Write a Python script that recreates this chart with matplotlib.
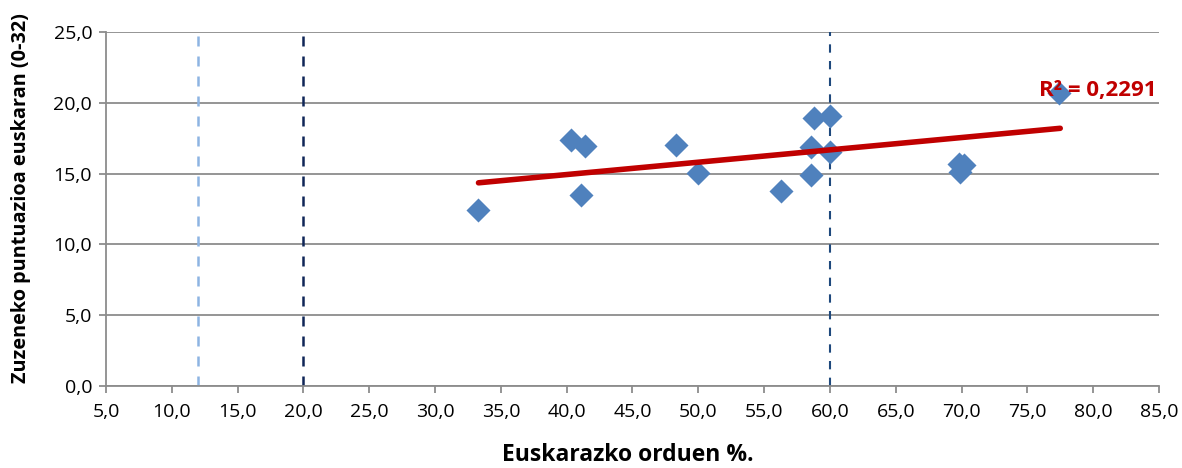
import numpy as np
import matplotlib
matplotlib.use('Agg')
import matplotlib.pyplot as plt
from matplotlib.ticker import FuncFormatter

# euskarazko orduen % vs zuzeneko puntuazioa
euskara_pct = [33.3, 40.3, 41.4, 41.1, 48.3, 50.0, 56.3, 58.6, 58.6, 58.8, 60.0, 60.0, 69.8, 70.2, 69.9, 77.4]
puntuazioa = [12.4, 17.4, 16.95, 13.5, 17.0, 15.05, 13.8, 14.9, 16.9, 18.9, 19.05, 16.5, 15.7, 15.6, 15.1, 20.7]

# trend line end points
trend_x = [33.3, 77.5]
trend_y = [14.35, 18.2]
r2_text = 'R² = 0,2291'

# reference lines (x values) and their colours
ref_x = [12.0, 20.0, 60.0]
ref_colors = ['#8DB4E2', '#0F2557', '#1F497D']
ref_widths = [1.8, 1.8, 1.5]

plt.rcParams['font.family'] = ['Open Sans', 'DejaVu Sans']

fig = plt.figure(figsize=(11.82, 4.68), dpi=100)
ax = fig.add_axes([0.0897, 0.1752, 0.8908, 0.7564])

for xv, c, w in zip(ref_x, ref_colors, ref_widths):
	ax.axvline(xv, color=c, linewidth=w, linestyle=(0, (4, 4)), zorder=1)

ax.scatter(euskara_pct, puntuazioa, marker='D', s=150, color='#4F81BD', zorder=3, linewidths=0)

ax.plot(trend_x, trend_y, color='#C00000', linewidth=4, solid_capstyle='round', zorder=4)

ax.text(84.8, 20.9, r2_text, color='#C00000', fontsize=16, fontweight='bold',
		ha='right', va='center', zorder=5)

ax.set_xlim(5, 85)
ax.set_ylim(0, 25)
ax.set_xticks(np.arange(5, 86, 5))
ax.set_yticks(np.arange(0, 26, 5))
fmt = FuncFormatter(lambda v, p: ('%.1f' % v).replace('.', ','))
ax.xaxis.set_major_formatter(fmt)
ax.yaxis.set_major_formatter(fmt)

ax.grid(axis='y', color='#8C8C8C', linewidth=1.3)
ax.set_axisbelow(True)
for s in ['top', 'right']:
	ax.spines[s].set_visible(False)
for s in ['left', 'bottom']:
	ax.spines[s].set_color('#8C8C8C')
	ax.spines[s].set_linewidth(1.3)
ax.tick_params(axis='both', colors='#8C8C8C', labelcolor='black', labelsize=14, length=5, width=1.3)
ax.tick_params(axis='x', pad=7)
ax.tick_params(axis='y', pad=5)

fig.text(628 / 1182, 1 - 455 / 468, 'Euskarazko orduen %.', fontsize=16.5, fontweight='bold',
		ha='center', va='center')
fig.text(21 / 1182, 1 - 198 / 468, 'Zuzeneko puntuazioa euskaran (0-32)', fontsize=14.3,
		fontweight='bold', rotation=90, ha='center', va='center')

plt.savefig('out.png', dpi=100)
